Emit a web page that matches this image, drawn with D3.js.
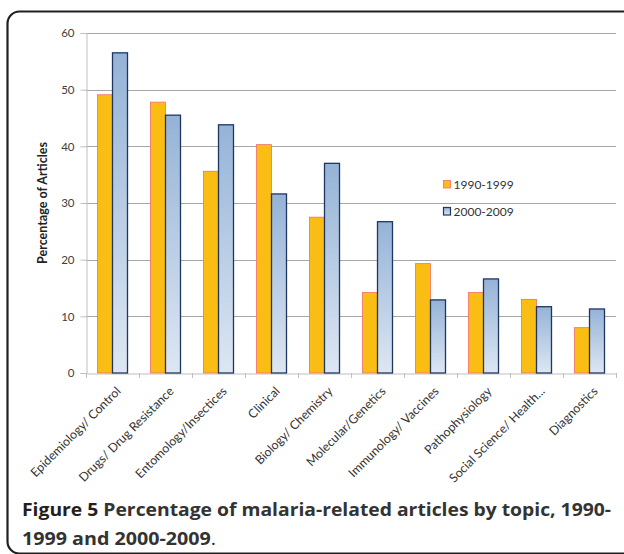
<!DOCTYPE html>
<html>
<head>
<meta charset="utf-8">
<script src="https://cdn.jsdelivr.net/npm/d3@7"></script>
<style>
  html, body { margin: 0; padding: 0; background: #fff; }
  svg { display: block; }
</style>
</head>
<body>
<svg id="chart" width="624" height="554"></svg>
<script>
// topics and shares of articles
const topics = [
  'Epidemiology/ Control', 'Drugs/ Drug Resistance', 'Entomology/Insectices',
  'Clinical', 'Biology/ Chemistry', 'Molecular/Genetics', 'Immunology/ Vaccines',
  'Pathophysiology', 'Social Science/ Health...', 'Diagnostics'
];
const series = ['1990-1999', '2000-2009'];
const values1990s = [49.1, 47.8, 35.6, 40.3, 27.5, 14.2, 19.3, 14.2, 13.0, 8.0];
const values2000s = [56.5, 45.5, 43.8, 31.6, 37.0, 26.7, 12.9, 16.6, 11.7, 11.3];
const yTicks = [0, 10, 20, 30, 40, 50, 60];

const svg = d3.select('#chart');

const M = { left: 86, right: 616, top: 33, bottom: 373 };

const x = d3.scaleBand().domain(topics).range([M.left, M.right]).paddingInner(0).paddingOuter(0);
const bw = x.bandwidth() * 0.283;

const y = d3.scaleLinear().domain([0, 60]).range([M.bottom, M.top]);

// gradient for the blue bars
const defs = svg.append('defs');
const grad = defs.append('linearGradient')
  .attr('id', 'blueGrad').attr('x1', 0).attr('y1', 0).attr('x2', 0).attr('y2', 1);
grad.append('stop').attr('offset', '0%').attr('stop-color', '#95b3d7');
grad.append('stop').attr('offset', '100%').attr('stop-color', '#dde7f3');

// frame round the figure
svg.append('rect')
  .attr('x', 7.5).attr('y', 11.5)
  .attr('width', 640).attr('height', 542)
  .attr('rx', 12)
  .attr('fill', 'none')
  .attr('stroke', '#231f20')
  .attr('stroke-width', 2.2);

// gridlines
svg.append('g').selectAll('line')
  .data(yTicks.slice(1))
  .join('line')
  .attr('x1', M.left).attr('x2', M.right)
  .attr('y1', d => Math.round(y(d)) + 0.5).attr('y2', d => Math.round(y(d)) + 0.5)
  .attr('stroke', '#a6a6a6').attr('stroke-width', 1);

// y axis
const yAxis = svg.append('g')
  .attr('transform', `translate(${M.left + 0.5},0)`)
  .call(d3.axisLeft(y).tickValues(yTicks).tickSize(6).tickPadding(6));
yAxis.select('.domain').attr('stroke', '#bfbfbf');
yAxis.selectAll('.tick line').attr('stroke', '#bfbfbf');
yAxis.selectAll('.tick text')
  .attr('fill', '#404040')
  .style('font-family', 'Lato, "Open Sans", sans-serif')
  .style('font-size', '11.5px');

// x axis
const xAxis = svg.append('g')
  .attr('transform', `translate(0,${M.bottom + 0.5})`)
  .call(d3.axisBottom(x).tickSize(0).tickFormat(''));
xAxis.select('.domain').attr('stroke', '#bfbfbf');
svg.append('g').selectAll('line')
  .data(topics.map((t, i) => i).concat([topics.length]))
  .join('line')
  .attr('x1', i => Math.round(M.left + i * x.step()) + 0.5)
  .attr('x2', i => Math.round(M.left + i * x.step()) + 0.5)
  .attr('y1', M.bottom).attr('y2', M.bottom + 5)
  .attr('stroke', '#bfbfbf');

// x labels
svg.append('g').selectAll('text')
  .data(topics)
  .join('text')
  .attr('transform', d => `translate(${x(d) + x.bandwidth() / 2 + 9},${M.bottom + 19}) rotate(-45)`)
  .attr('text-anchor', 'end')
  .attr('fill', '#333')
  .style('font-family', 'Lato, "Open Sans", sans-serif')
  .style('font-size', '12.3px')
  .text(d => d);

// bars
const groups = svg.append('g').selectAll('g')
  .data(topics)
  .join('g');

groups.append('rect')
  .attr('x', (d) => x(d) + x.bandwidth() / 2 - bw)
  .attr('y', (d, i) => y(values1990s[i]))
  .attr('width', bw)
  .attr('height', (d, i) => y(0) - y(values1990s[i]))
  .attr('fill', '#fabd14')
  .attr('stroke', '#f26d6d')
  .attr('stroke-width', 0.8);

groups.append('rect')
  .attr('x', (d) => x(d) + x.bandwidth() / 2)
  .attr('y', (d, i) => y(values2000s[i]))
  .attr('width', bw)
  .attr('height', (d, i) => y(0) - y(values2000s[i]))
  .attr('fill', 'url(#blueGrad)')
  .attr('stroke', '#1f3760')
  .attr('stroke-width', 1.3);

// y title
svg.append('text')
  .attr('transform', `translate(47,203) rotate(-90)`)
  .attr('text-anchor', 'middle')
  .attr('fill', '#222')
  .style('font-family', 'Lato, "Open Sans", sans-serif')
  .style('font-weight', 'bold')
  .style('font-size', '12.5px')
  .text('Percentage of Articles');

// legend
const legend = svg.append('g').attr('transform', 'translate(443,180)');
series.forEach((s, i) => {
  const g = legend.append('g').attr('transform', `translate(0,${i * 27})`);
  g.append('rect')
    .attr('x', 0.5).attr('y', 0.5).attr('width', 7).attr('height', 7.5)
    .attr('fill', i === 0 ? '#fabd14' : 'url(#blueGrad)')
    .attr('stroke', i === 0 ? '#f26d6d' : '#1f3760')
    .attr('stroke-width', i === 0 ? 0.8 : 1.2);
  g.append('text')
    .attr('x', 10.5).attr('y', 8.5)
    .attr('fill', '#333')
    .style('font-family', 'Lato, "Open Sans", sans-serif')
    .style('font-size', '12px')
    .text(s);
});

// caption
const cap = svg.append('g')
  .style('font-family', '"Open Sans", sans-serif')
  .style('font-weight', 'bold')
  .style('font-size', '18px')
  .attr('fill', '#231f20');

const line1 = cap.append('text').attr('x', 22).attr('y', 516)
  .attr('textLength', 589).attr('lengthAdjust', 'spacingAndGlyphs');
line1.append('tspan').text('Figure 5 ');
line1.append('tspan').attr('fill', '#333').text('Percentage of malaria-related articles by topic, 1990-');

const line2 = cap.append('text').attr('x', 22).attr('y', 545)
  .attr('textLength', 194).attr('lengthAdjust', 'spacingAndGlyphs');
line2.append('tspan').attr('fill', '#333').text('1999 and 2000-2009');
line2.append('tspan').style('font-weight', 'normal').text('.');
</script>
</body>
</html>
